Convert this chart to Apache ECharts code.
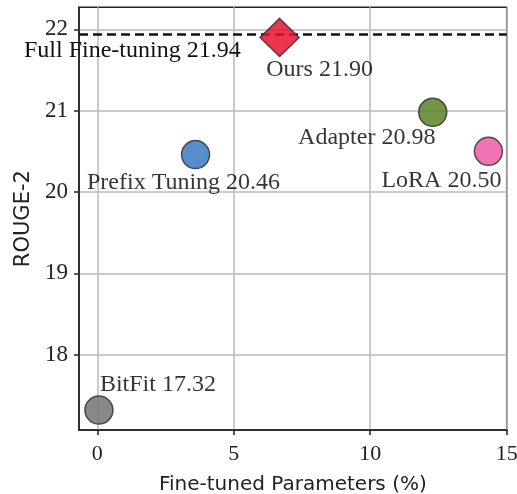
<!DOCTYPE html>
<html>
<head>
<meta charset="utf-8">
<script src="https://cdn.jsdelivr.net/npm/echarts@6/dist/echarts.min.js"></script>
<style>html,body{margin:0;padding:0;background:#fff}#c{width:517px;height:494px}</style>
</head>
<body>
<div id="c"></div>
<script>
const methods = ['BitFit', 'Prefix Tuning', 'Ours', 'Adapter', 'LoRA'];
const params = [0.06, 3.6, 6.68, 12.29, 14.33];
const rouge2 = [17.32, 20.46, 21.90, 20.98, 20.50];
const colors = ['#737373', '#3a78c4', '#e8132f', '#5a8328', '#f05aa6'];
const symbols = ['circle', 'circle', 'diamond', 'circle', 'circle'];
const labelOffsets = [[59, -25], [-12, 28], [40, 32], [-66, 25], [-47, 29]];
const fullFT = 21.94;
const xTicks = [0, 5, 10, 15];
const yTicks = [18, 19, 20, 21, 22];

const serif = '"Liberation Serif", "DejaVu Serif", serif';
const sans = '"DejaVu Sans", sans-serif';

const series = methods.map((m, i) => ({
  type: 'scatter',
  name: m,
  data: [[params[i], rouge2[i]]],
  symbol: symbols[i],
  symbolSize: symbols[i] === 'diamond' ? [39, 38] : 28,
  itemStyle: { color: colors[i], borderColor: '#333', borderWidth: 1.5, opacity: 0.85 },
  label: {
    show: true,
    position: 'inside',
    offset: labelOffsets[i],
    formatter: m + ' ' + rouge2[i].toFixed(2),
    fontFamily: serif,
    fontSize: 24,
    color: '#111'
  },
  z: 5
}));

series.push({
  type: 'line',
  data: [],
  z: 8,
  markLine: {
    silent: true,
    symbol: 'none',
    lineStyle: { color: '#111', type: [9, 5], width: 2.5 },
    label: {
      show: true,
      position: 'insideStartBottom',
      formatter: 'Full Fine-tuning ' + fullFT.toFixed(2),
      fontFamily: serif,
      fontSize: 24,
      color: '#111',
      offset: [-60, 0]
    },
    data: [{ yAxis: fullFT }]
  }
});

const chart = echarts.init(document.getElementById('c'), null, { renderer: 'canvas' });
chart.setOption({
  animation: false,
  grid: { left: 79, right: 10.3, top: 7.3, bottom: 64, show: true, borderColor: '#222', borderWidth: 1.5, containLabel: false, outerBoundsMode: 'none' },
  xAxis: {
    type: 'value', min: -0.67, max: 15,
    name: 'Fine-tuned Parameters (%)', nameLocation: 'middle', nameGap: 45,
    nameTextStyle: { fontFamily: sans, fontSize: 20, color: '#222' },
    axisLine: { show: true, onZero: false, lineStyle: { color: '#222', width: 1.5 } },
    axisTick: { show: true, length: 5, customValues: xTicks, lineStyle: { color: '#222', width: 1.5 } },
    axisLabel: { customValues: xTicks, fontFamily: serif, fontSize: 22, color: '#222', margin: 13 },
    splitLine: { show: true, lineStyle: { color: '#bbb', width: 1.5 } }
  },
  yAxis: {
    type: 'value', min: 17.075, max: 22.27,
    name: 'ROUGE-2', nameLocation: 'middle', nameGap: 43,
    nameTextStyle: { fontFamily: sans, fontSize: 21, color: '#222' },
    axisLine: { show: true, onZero: false, lineStyle: { color: '#222', width: 1.5 } },
    axisTick: { show: true, length: 5, customValues: yTicks, lineStyle: { color: '#222', width: 1.5 } },
    axisLabel: { customValues: yTicks, fontFamily: serif, fontSize: 23, color: '#222', margin: 11 },
    splitLine: { show: true, lineStyle: { color: '#bbb', width: 1.5 } }
  },
  series: series
});
</script>
</body>
</html>
